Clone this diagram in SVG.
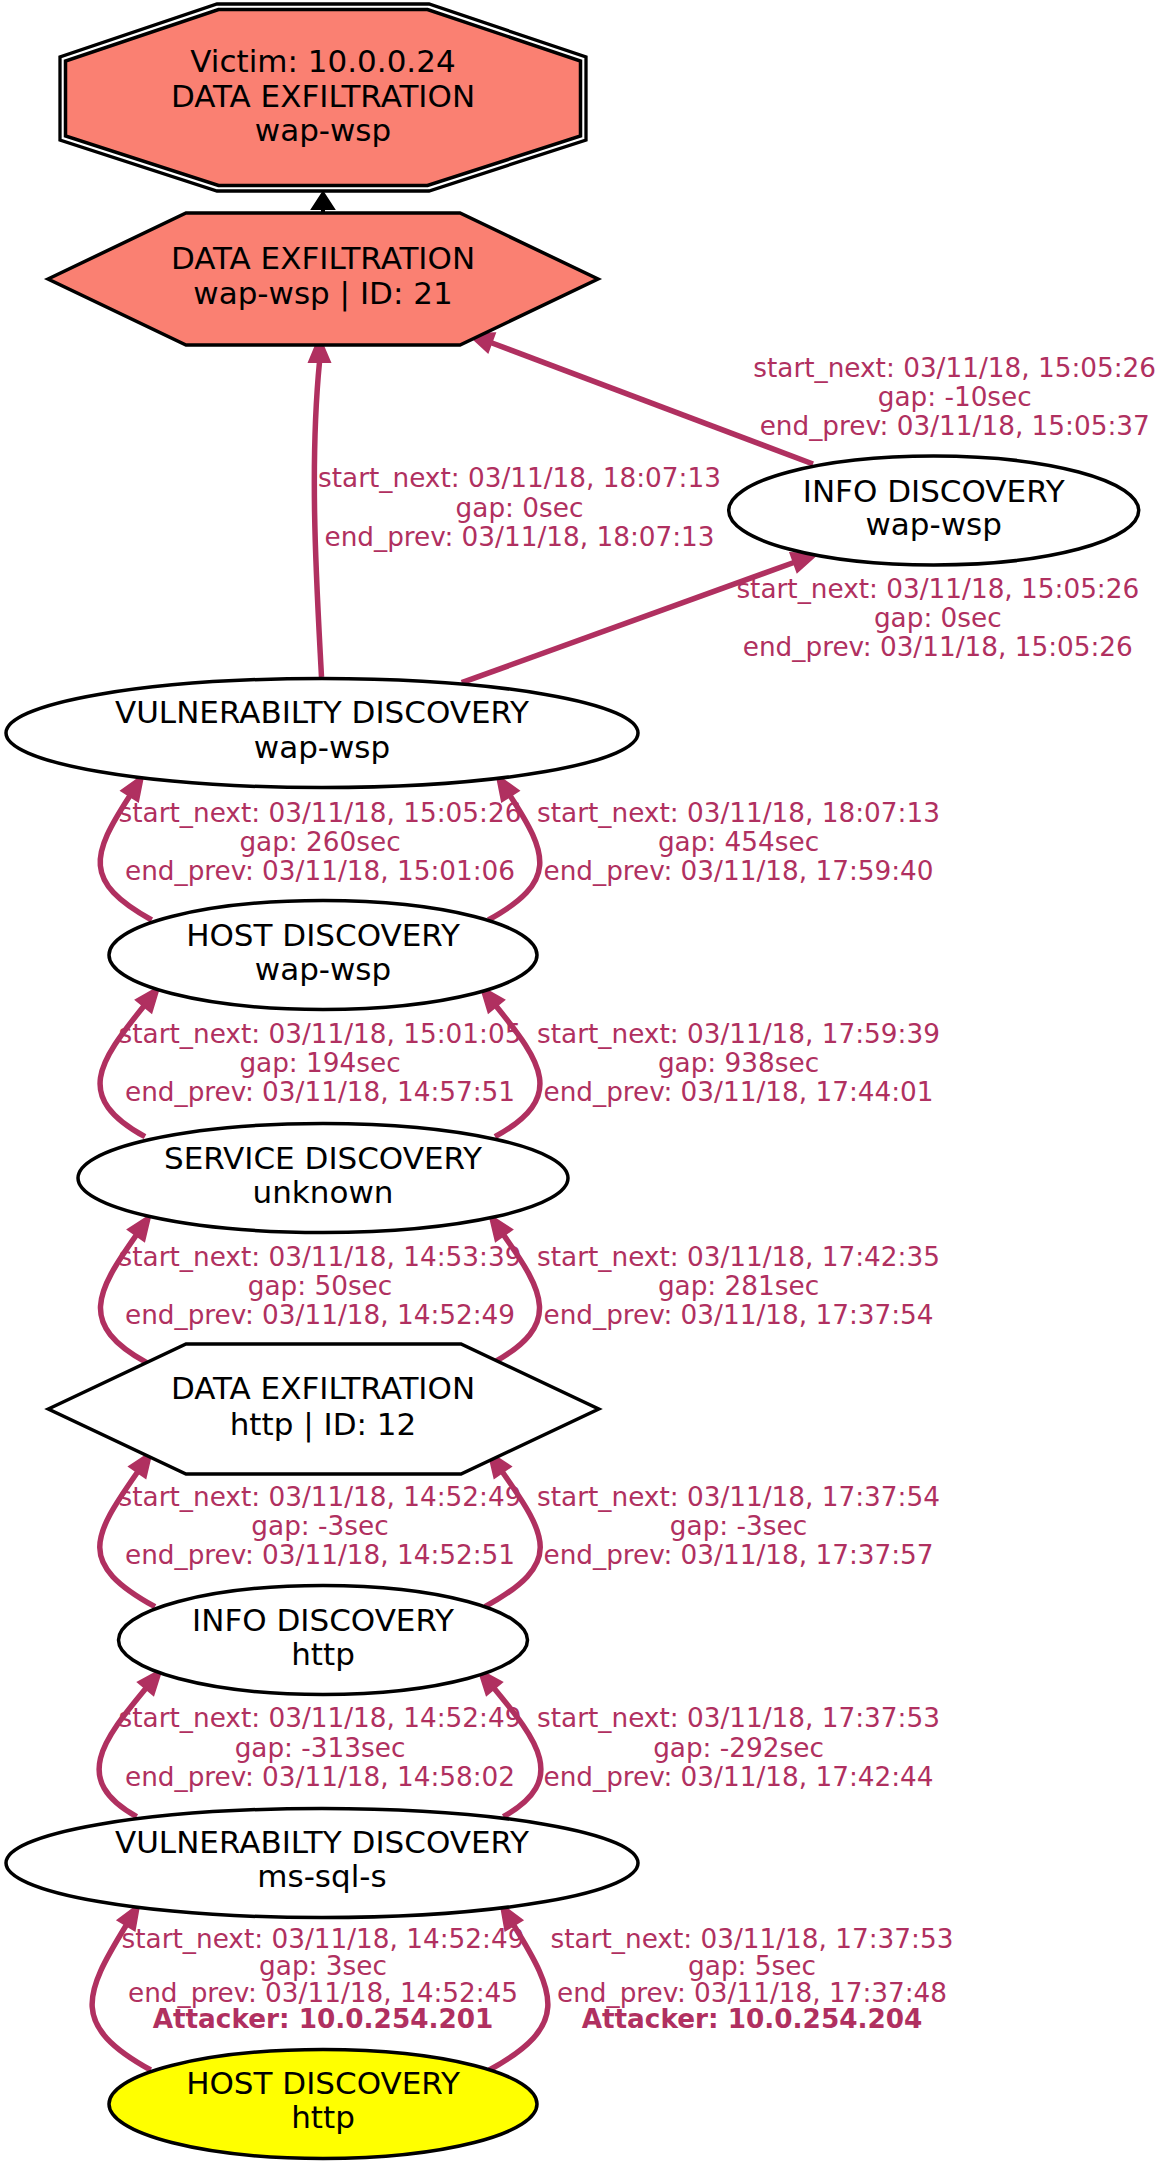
<svg xmlns="http://www.w3.org/2000/svg" width="1164" height="2166" viewBox="0 0 1164 2166">
<style>
.bg{fill:#ffffff}
.node{stroke:#000;stroke-width:3.5;fill:#ffffff}
.salmon{fill:#fa8072}
.yellow{fill:#ffff00}
.outer{fill:none;stroke:#000;stroke-width:3.3}
.nt{font-family:"DejaVu Sans",sans-serif;font-size:31px;fill:#000;text-anchor:middle}
.et{font-family:"DejaVu Sans",sans-serif;font-size:26.3px;fill:#b03060;text-anchor:middle}
.b{font-weight:bold}
.e{fill:none;stroke:#b03060;stroke-width:5.5}
.ah{fill:#b03060;stroke:#b03060;stroke-width:2}
.ke{fill:none;stroke:#000;stroke-width:4}
.kh{fill:#000;stroke:#000;stroke-width:2}
</style>
<rect class="bg" x="0" y="0" width="1164" height="2166"/>
<g id="connectors">
  <line class="ke" x1="323" y1="213" x2="323" y2="207"/>
  <polygon class="kh" points="323,192 334,209 312,209"/>
  <path class="e" d="M321.5,677 C317,590 309,470 319.5,362"/>
  <polygon class="ah" points="319.3,337 330,362 309,362"/>
  <line class="e" x1="813" y1="464" x2="491.4" y2="342.8"/>
  <polygon class="ah" points="468,334 494.9,333.4 487.9,352.2"/>
  <line class="e" x1="461.7" y1="682.7" x2="793.8" y2="562.5"/>
  <polygon class="ah" points="817.3,554 797.2,571.9 790.4,553.1"/>
  <path class="e" d="M151.7,920 C82.1,881.6 91.7,854.7 129.7,796"/>
  <polygon class="ah" points="143.3,775 138.1,801.4 121.3,790.6"/>
  <path class="e" d="M488.3,920 C557.9,881.6 548.3,854.7 510.3,796"/>
  <polygon class="ah" points="496.7,775 501.9,801.4 518.7,790.6"/>
  <path class="e" d="M145,1136.7 C73.2,1097.1 98.6,1062.5 143.7,1006.2"/>
  <polygon class="ah" points="159.3,986.7 151.5,1012.45 135.9,999.95"/>
  <path class="e" d="M495,1136.7 C566.8,1097.1 541.4,1062.5 496.3,1006.2"/>
  <polygon class="ah" points="480.7,986.7 488.5,1012.45 504.1,999.95"/>
  <path class="e" d="M146.7,1362.7 C77.7,1324.6 96.1,1292.1 136.1,1235.4"/>
  <polygon class="ah" points="150.5,1215 144.3,1241.2 127.9,1229.6"/>
  <path class="e" d="M493.3,1362.7 C562.3,1324.6 543.9,1292.1 503.9,1235.4"/>
  <polygon class="ah" points="489.5,1215 495.7,1241.2 512.1,1229.6"/>
  <path class="e" d="M155,1606.7 C76.4,1563.4 92.2,1537 137.4,1472.2"/>
  <polygon class="ah" points="151.7,1451.7 145.6,1477.9 129.2,1466.5"/>
  <path class="e" d="M485,1606.7 C563.6,1563.4 547.8,1537 502.6,1472.2"/>
  <polygon class="ah" points="488.3,1451.7 494.4,1477.9 510.8,1466.5"/>
  <path class="e" d="M136.7,1816.7 C70.6,1780.2 103.35,1739.75 145.75,1688.55"/>
  <polygon class="ah" points="161.7,1669.3 153.45,1694.95 138.05,1682.15"/>
  <path class="e" d="M503.3,1816.7 C569.4,1780.2 536.65,1739.75 494.25,1688.55"/>
  <polygon class="ah" points="478.3,1669.3 486.55,1694.95 501.95,1682.15"/>
  <path class="e" d="M150.7,2070 C69.9,2025.4 83.7,1994.6 126.2,1925.3"/>
  <polygon class="ah" points="139.3,1904 134.7,1930.5 117.7,1920.1"/>
  <path class="e" d="M489.3,2070 C570.1,2025.4 556.3,1994.6 513.8,1925.3"/>
  <polygon class="ah" points="500.7,1904 505.3,1930.5 522.3,1920.1"/>
  <text class="et"><tspan x="519.5" y="487.3">start_next: 03/11/18, 18:07:13</tspan><tspan x="519.5" y="516.7">gap: 0sec</tspan><tspan x="519.5" y="546">end_prev: 03/11/18, 18:07:13</tspan></text>
  <text class="et"><tspan x="954.7" y="376.7">start_next: 03/11/18, 15:05:26</tspan><tspan x="954.7" y="406">gap: -10sec</tspan><tspan x="954.7" y="435">end_prev: 03/11/18, 15:05:37</tspan></text>
  <text class="et"><tspan x="937.8" y="597.7">start_next: 03/11/18, 15:05:26</tspan><tspan x="937.8" y="627.3">gap: 0sec</tspan><tspan x="937.8" y="656">end_prev: 03/11/18, 15:05:26</tspan></text>
  <text class="et"><tspan x="320" y="821.5">start_next: 03/11/18, 15:05:26</tspan><tspan x="320" y="850.5">gap: 260sec</tspan><tspan x="320" y="879.5">end_prev: 03/11/18, 15:01:06</tspan></text>
  <text class="et"><tspan x="738.5" y="821.5">start_next: 03/11/18, 18:07:13</tspan><tspan x="738.5" y="850.5">gap: 454sec</tspan><tspan x="738.5" y="879.5">end_prev: 03/11/18, 17:59:40</tspan></text>
  <text class="et"><tspan x="320" y="1043.3">start_next: 03/11/18, 15:01:05</tspan><tspan x="320" y="1072.3">gap: 194sec</tspan><tspan x="320" y="1101.3">end_prev: 03/11/18, 14:57:51</tspan></text>
  <text class="et"><tspan x="738.5" y="1043.3">start_next: 03/11/18, 17:59:39</tspan><tspan x="738.5" y="1072.3">gap: 938sec</tspan><tspan x="738.5" y="1101.3">end_prev: 03/11/18, 17:44:01</tspan></text>
  <text class="et"><tspan x="320" y="1266">start_next: 03/11/18, 14:53:39</tspan><tspan x="320" y="1295">gap: 50sec</tspan><tspan x="320" y="1324">end_prev: 03/11/18, 14:52:49</tspan></text>
  <text class="et"><tspan x="738.5" y="1266">start_next: 03/11/18, 17:42:35</tspan><tspan x="738.5" y="1295">gap: 281sec</tspan><tspan x="738.5" y="1324">end_prev: 03/11/18, 17:37:54</tspan></text>
  <text class="et"><tspan x="320" y="1505.5">start_next: 03/11/18, 14:52:49</tspan><tspan x="320" y="1534.5">gap: -3sec</tspan><tspan x="320" y="1563.5">end_prev: 03/11/18, 14:52:51</tspan></text>
  <text class="et"><tspan x="738.5" y="1505.5">start_next: 03/11/18, 17:37:54</tspan><tspan x="738.5" y="1534.5">gap: -3sec</tspan><tspan x="738.5" y="1563.5">end_prev: 03/11/18, 17:37:57</tspan></text>
  <text class="et"><tspan x="320" y="1727">start_next: 03/11/18, 14:52:49</tspan><tspan x="320" y="1756.5">gap: -313sec</tspan><tspan x="320" y="1786">end_prev: 03/11/18, 14:58:02</tspan></text>
  <text class="et"><tspan x="738.5" y="1727">start_next: 03/11/18, 17:37:53</tspan><tspan x="738.5" y="1756.5">gap: -292sec</tspan><tspan x="738.5" y="1786">end_prev: 03/11/18, 17:42:44</tspan></text>
  <text class="et"><tspan x="323" y="1948.3">start_next: 03/11/18, 14:52:49</tspan><tspan x="323" y="1975">gap: 3sec</tspan><tspan x="323" y="2001.7">end_prev: 03/11/18, 14:52:45</tspan><tspan class="b" x="323" y="2028.3">Attacker: 10.0.254.201</tspan></text>
  <text class="et"><tspan x="752" y="1948.3">start_next: 03/11/18, 17:37:53</tspan><tspan x="752" y="1975">gap: 5sec</tspan><tspan x="752" y="2001.7">end_prev: 03/11/18, 17:37:48</tspan><tspan class="b" x="752" y="2028.3">Attacker: 10.0.254.204</tspan></text>
</g>
<g id="victim">
  <polygon class="outer" points="217,4 429,4 586,57 586,140 429,191 217,191 60,140 60,57"/>
  <polygon class="node salmon" points="218.5,9.5 427.5,9.5 580.5,61 580.5,136 427.5,185.5 218.5,185.5 65.5,136 65.5,61"/>
  <text class="nt"><tspan x="323" y="72">Victim: 10.0.0.24</tspan><tspan x="323" y="106.5">DATA EXFILTRATION</tspan><tspan x="323" y="141">wap-wsp</tspan></text>
</g>
<g id="exfil21">
  <polygon class="node salmon" points="48,279 186,213 460,213 598,279 460,345 186,345"/>
  <text class="nt"><tspan x="323" y="269">DATA EXFILTRATION</tspan><tspan x="323" y="304">wap-wsp | ID: 21</tspan></text>
</g>
<g id="info_wapwsp">
  <ellipse class="node" cx="933.7" cy="510.5" rx="205" ry="54.5"/>
  <text class="nt"><tspan x="933.7" y="501.7">INFO DISCOVERY</tspan><tspan x="933.7" y="535">wap-wsp</tspan></text>
</g>
<g id="vuln_wapwsp">
  <ellipse class="node" cx="322" cy="733" rx="316" ry="54.5"/>
  <text class="nt"><tspan x="322" y="723.3">VULNERABILTY DISCOVERY</tspan><tspan x="322" y="758">wap-wsp</tspan></text>
</g>
<g id="host_wapwsp">
  <ellipse class="node" cx="323" cy="955" rx="214" ry="54.5"/>
  <text class="nt"><tspan x="323" y="946">HOST DISCOVERY</tspan><tspan x="323" y="980">wap-wsp</tspan></text>
</g>
<g id="service_unknown">
  <ellipse class="node" cx="323" cy="1178" rx="245" ry="54.5"/>
  <text class="nt"><tspan x="323" y="1168.5">SERVICE DISCOVERY</tspan><tspan x="323" y="1203">unknown</tspan></text>
</g>
<g id="exfil12">
  <polygon class="node" points="48.3,1409 186,1344 461,1344 598.7,1409 461,1474 186,1474"/>
  <text class="nt"><tspan x="323" y="1399.3">DATA EXFILTRATION</tspan><tspan x="323" y="1435">http | ID: 12</tspan></text>
</g>
<g id="info_http">
  <ellipse class="node" cx="323" cy="1640" rx="204.5" ry="54.5"/>
  <text class="nt"><tspan x="323" y="1630.7">INFO DISCOVERY</tspan><tspan x="323" y="1665">http</tspan></text>
</g>
<g id="vuln_mssql">
  <ellipse class="node" cx="322" cy="1863" rx="316" ry="54.5"/>
  <text class="nt"><tspan x="322" y="1853.3">VULNERABILTY DISCOVERY</tspan><tspan x="322" y="1886.7">ms-sql-s</tspan></text>
</g>
<g id="host_http">
  <ellipse class="node yellow" cx="323" cy="2104" rx="214" ry="54.5"/>
  <text class="nt"><tspan x="323" y="2094">HOST DISCOVERY</tspan><tspan x="323" y="2128.3">http</tspan></text>
</g>
</svg>
